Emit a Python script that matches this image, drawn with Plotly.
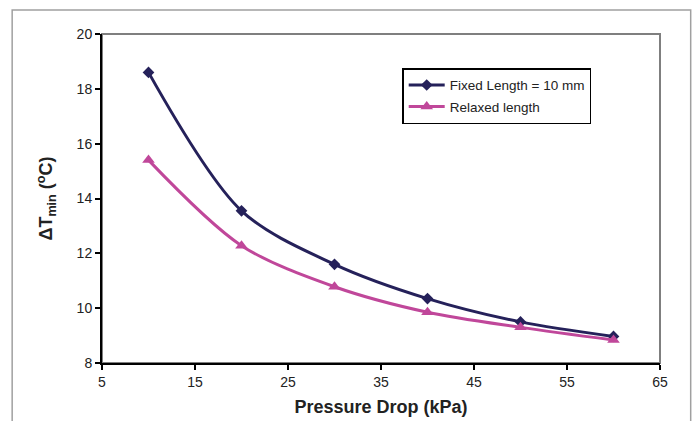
import plotly.graph_objects as go

pressure_drop = [10, 20, 30, 40, 50, 60]
fixed_length = [18.6, 13.55, 11.6, 10.35, 9.5, 8.97]
relaxed_length = [15.4, 12.28, 10.78, 9.85, 9.3, 8.84]
x_ticks = [5, 15, 25, 35, 45, 55, 65]
y_ticks = [8, 10, 12, 14, 16, 18, 20]

navy = "#25215a"
magenta = "#c0479a"

fig = go.Figure()
fig.add_trace(go.Scatter(
    x=pressure_drop, y=fixed_length, name="Fixed Length = 10 mm", legendgroup="a",
    mode="lines+markers", line=dict(color=navy, width=3, shape="spline", smoothing=0.9),
    marker=dict(symbol="diamond", size=9, color=navy)))
fig.add_trace(go.Scatter(
    x=pressure_drop, y=relaxed_length, name="Relaxed length", legendgroup="b",
    mode="lines+markers", line=dict(color=magenta, width=3, shape="spline", smoothing=0.9),
    marker=dict(symbol="triangle-up", size=11, color=magenta)))

font = "Liberation Sans, Arial, sans-serif"
fig.update_layout(
    width=694, height=421,
    margin=dict(l=102, r=34, t=34, b=58),
    paper_bgcolor="white", plot_bgcolor="white",
    font=dict(family=font, size=14, color="#222"),
    showlegend=True,
    legend=dict(x=0.538, y=0.896, xanchor="left", yanchor="top",
                bgcolor="white", bordercolor="black", borderwidth=1.5,
                font=dict(size=13.5, color="#222"), itemwidth=36, tracegroupgap=1),
    xaxis=dict(range=[5, 65], tickvals=x_ticks, showgrid=False, zeroline=False,
               showline=True, linecolor="black", linewidth=2, automargin=False,
               ticks="outside", ticklen=5, tickwidth=2, tickcolor="black",
               title=dict(text="<b>Pressure Drop (kPa)</b>", font=dict(size=18), standoff=12)),
    yaxis=dict(range=[8, 20], tickvals=y_ticks, showgrid=False, zeroline=False,
               showline=True, linecolor="black", linewidth=2, automargin=False,
               ticks="outside", ticklen=5, tickwidth=2, tickcolor="black",
               title=dict(text="<b>ΔT<sub>min</sub> (<sup>o</sup>C)</b>", font=dict(size=18), standoff=19)),
    shapes=[
        dict(type="rect", xref="paper", yref="paper", x0=0, x1=1, y0=0, y1=1,
             line=dict(color="#7f7f7f", width=2), layer="below"),
        dict(type="rect", xref="paper", yref="paper", x0=-0.161, x1=1.055, y0=-0.2, y1=1.073,
             line=dict(color="#a0a0a0", width=1.5), layer="below"),
    ],
)

fig.write_html("out.html")
